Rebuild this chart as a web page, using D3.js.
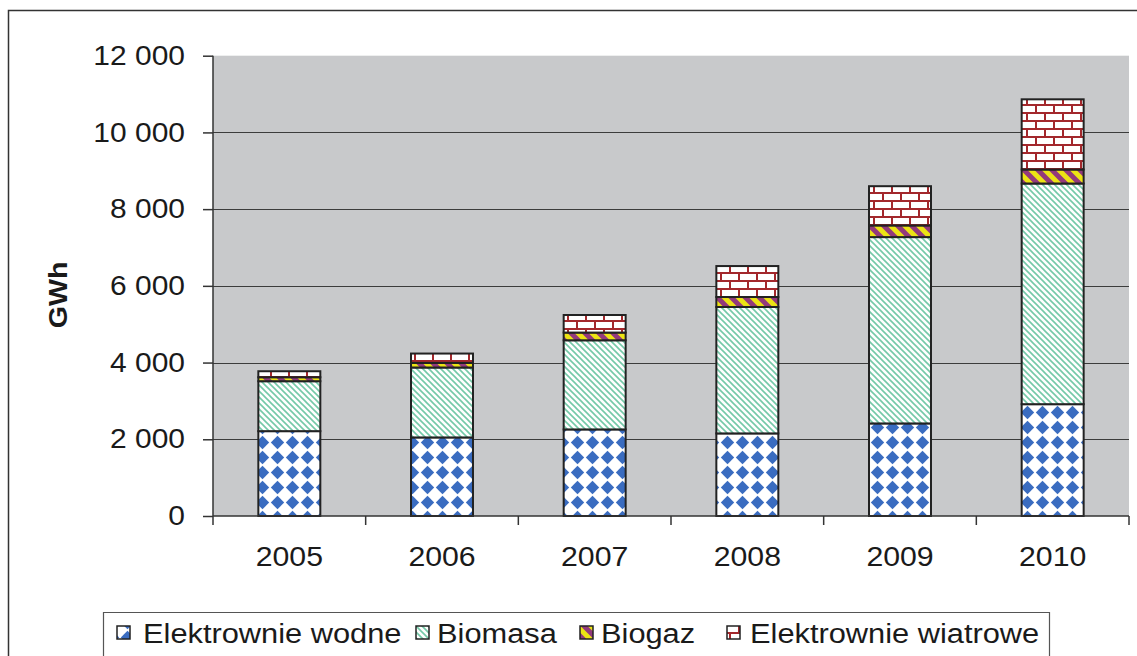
<!DOCTYPE html>
<html><head><meta charset="utf-8">
<script src="https://cdn.jsdelivr.net/npm/d3@7"></script>
<style>html,body{margin:0;padding:0;background:#fff;} svg{display:block;}</style>
</head><body>
<svg id="c" width="1137" height="656"></svg>
<script>
const years = ["2005","2006","2007","2008","2009","2010"];
const seriesNames = ["Elektrownie wodne","Biomasa","Biogaz","Elektrownie wiatrowe"];
const wodne    = [2212, 2048, 2257, 2153, 2413, 2915];
const biomasa  = [1302, 1823, 2324, 3296, 4858, 5753];
const biogaz   = [104, 120, 201, 260, 304, 365];
const wiatrowe = [156, 244, 458, 807, 1023, 1830];
const yTicks = [0, 2000, 4000, 6000, 8000, 10000, 12000];
const yLabel = "GWh";

const svg = d3.select("#c");
const W = 1137, H = 656;
const m = {left:213, right:1129, top:55.7, bottom:516};
const FONT = "'Liberation Sans', Arial, sans-serif";

// patterns
const defs = svg.append("defs");
const pW = defs.append("pattern").attr("id","pWodne").attr("patternUnits","userSpaceOnUse")
  .attr("width",15).attr("height",15);
pW.append("rect").attr("width",15).attr("height",15).attr("fill","#fff");
pW.append("path").attr("d","M7.5,0.8 L14.2,7.5 L7.5,14.2 L0.8,7.5 Z").attr("fill","#3a6cc0");
const pB = defs.append("pattern").attr("id","pBiomasa").attr("patternUnits","userSpaceOnUse")
  .attr("width",6).attr("height",6);
pB.append("rect").attr("width",6).attr("height",6).attr("fill","#fff");
pB.append("path").attr("d","M-1,-1 L7,7 M-1,5 L1,7 M5,-1 L7,1").attr("stroke","#74c9a8").attr("stroke-width",1.6);
const pG = defs.append("pattern").attr("id","pBiogaz").attr("patternUnits","userSpaceOnUse")
  .attr("width",14).attr("height",14);
pG.append("rect").attr("width",14).attr("height",14).attr("fill","#ece414");
pG.append("path").attr("d","M-2,-2 L16,16 M-2,12 L2,16 M12,-2 L16,2").attr("stroke","#933a7c").attr("stroke-width",5);
const pR = defs.append("pattern").attr("id","pWiatr").attr("patternUnits","userSpaceOnUse")
  .attr("width",18).attr("height",16);
pR.append("rect").attr("width",18).attr("height",16).attr("fill","#fff");
pR.append("path").attr("d","M0,1 H18 M0,9 H18 M1,1 V9 M10,9 V16")
  .attr("stroke","#a3282c").attr("stroke-width",2).attr("fill","none");
const fills = ["url(#pWodne)","url(#pBiomasa)","url(#pBiogaz)","url(#pWiatr)"];

// outer frame
svg.append("path").attr("d",`M8.5,${H} V10.5 H${W}`).attr("fill","none").attr("stroke","#333").attr("stroke-width",1.5);

const x = d3.scaleBand().domain(years).range([m.left, m.right]).paddingInner(0).paddingOuter(0);
const y = d3.scaleLinear().domain([0,12000]).range([m.bottom, m.top]);

svg.append("rect").attr("x",m.left).attr("y",m.top).attr("width",m.right-m.left).attr("height",m.bottom-m.top).attr("fill","#c8c9cb");

svg.append("g").selectAll("line").data(yTicks.filter(d=>d>0 && d<12000)).join("line")
  .attr("x1",m.left).attr("x2",m.right).attr("y1",d=>Math.round(y(d))+0.5).attr("y2",d=>Math.round(y(d))+0.5)
  .attr("stroke","#3c3c3c").attr("stroke-width",1);

const rows = years.map((yr,i)=>({year:yr, s0:wodne[i], s1:biomasa[i], s2:biogaz[i], s3:wiatrowe[i]}));
const stack = d3.stack().keys(["s0","s1","s2","s3"])(rows);
const bw = x.bandwidth()*0.406;
stack.forEach((layer,li)=>{
  svg.append("g").selectAll("rect").data(layer).join("rect")
    .attr("x",d=>x(d.data.year)+x.bandwidth()/2-bw/2)
    .attr("y",d=>y(d[1]))
    .attr("width",bw)
    .attr("height",d=>y(d[0])-y(d[1]))
    .attr("fill",fills[li])
    .attr("stroke","#222").attr("stroke-width",2);
});

// y axis
const fmt = d3.formatLocale({decimal:",", thousands:" ", grouping:[3], currency:["",""]}).format(",d");
const ya = svg.append("g").attr("transform",`translate(${m.left},0)`)
  .call(d3.axisLeft(y).tickValues(yTicks).tickFormat(fmt).tickSize(10).tickPadding(18));
ya.select(".domain").attr("stroke","#333").attr("stroke-width",1.5).attr("d",`M0,${m.top}V${m.bottom}`);
ya.selectAll(".tick line").attr("stroke","#333").attr("stroke-width",1.5);
ya.selectAll(".tick text").attr("font-family",FONT).attr("font-size",27).attr("fill","#1a1a1a")
  .attr("x",-28/1.11).attr("transform","scale(1.11,1)");

// x axis
const xa = svg.append("g").attr("transform",`translate(0,${m.bottom})`)
  .call(d3.axisBottom(x).tickSize(0).tickPadding(30));
xa.select(".domain").attr("stroke","#333").attr("stroke-width",1.5).attr("d",`M${m.left},0H${m.right}`);
xa.selectAll(".tick text").attr("font-family",FONT).attr("font-size",28).attr("fill","#1a1a1a")
  .attr("transform","scale(1.08,1)");
const bounds = years.map(d=>x(d)).concat([x(years[years.length-1])+x.bandwidth()]);
xa.append("g").selectAll("line").data(bounds).join("line")
  .attr("x1",d=>d).attr("x2",d=>d).attr("y1",0).attr("y2",9).attr("stroke","#333").attr("stroke-width",1.5);

// y label
svg.append("text").attr("transform","translate(67,295) rotate(-90) scale(1.1,1)").attr("text-anchor","middle")
  .attr("font-family",FONT).attr("font-weight","bold").attr("font-size",26).attr("fill","#1a1a1a").text(yLabel);

// legend
svg.append("path").attr("d",`M103.5,${H} V612.5 H1049.5 V${H}`).attr("fill","none").attr("stroke","#555").attr("stroke-width",1.2);
const legIcon = [117, 416, 580, 727];
const legText = [143, 437, 601, 750];
seriesNames.forEach((n,i)=>{
  svg.append("rect").attr("x",legIcon[i]).attr("y",626).attr("width",13).attr("height",13)
    .attr("fill",fills[i]).attr("stroke","#222").attr("stroke-width",1.5);
  svg.append("text").attr("transform",`translate(${legText[i]},643) scale(1.1,1)`)
    .attr("font-family",FONT).attr("font-size",28).attr("fill","#1a1a1a").text(n);
});
</script>
</body></html>
